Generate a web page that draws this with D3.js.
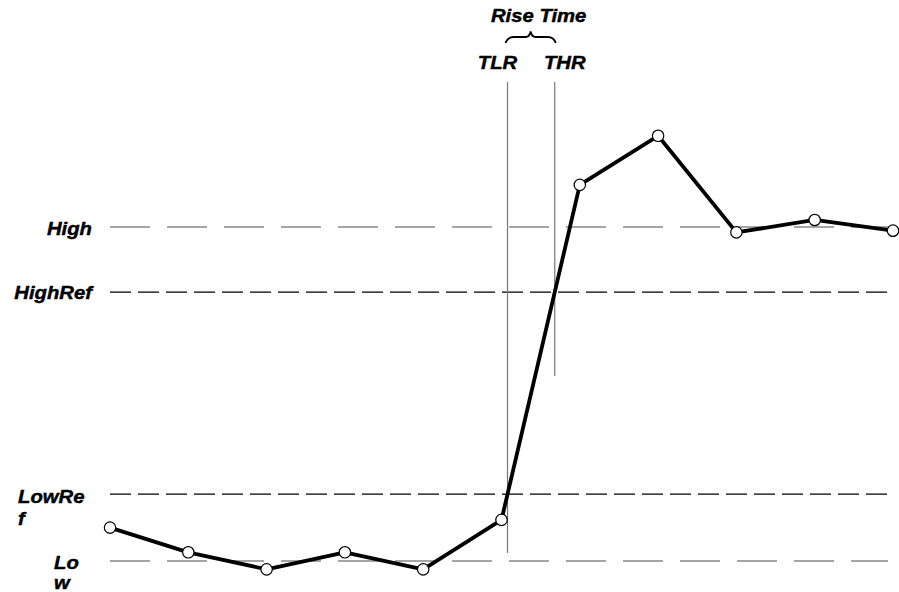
<!DOCTYPE html>
<html>
<head>
<meta charset="utf-8">
<script src="https://cdn.jsdelivr.net/npm/d3@7"></script>
<style>
  html, body { margin: 0; padding: 0; background: #fff; }
  svg { display: block; }
  .lbl { font-family: "Liberation Sans", Arial, sans-serif; font-weight: bold; font-style: italic; font-size: 17.5px; fill: #000; stroke: #000; stroke-width: 0.4px; }
</style>
</head>
<body>
<svg id="chart"></svg>
<script>
// sample values of the waveform (Low = 0, High = 100)
var samples = [0, 1, 2, 3, 4, 5, 6, 7, 8, 9, 10];
var values = [10, 2.6, -2.5, 2.6, -2.5, 12.3, 112.6, 127.3, 98.4, 102.1, 98.9];

// reference levels
var levelNames = ["High", "HighRef", "LowRef", "Low"];
var levelValues = [100, 80.5, 20, 0];
var levelLines = [["High"], ["HighRef"], ["LowRe", "f"], ["Lo", "w"]];

var W = 899, H = 592;
var svg = d3.select("#chart").attr("width", W).attr("height", H);

var x = d3.scaleLinear().domain([0, 10]).range([110, 893]);
var y = d3.scaleLinear().domain([0, 100]).range([561, 227]);

// level lines
var levelStyle = {
    High: { dash: "40,17", color: "#4d4d4d" },
    HighRef: { dash: "21,7", color: "#000" },
    LowRef: { dash: "21,7", color: "#000" },
    Low: { dash: "40,17", color: "#4d4d4d" }
};

svg.append("g").selectAll("line")
    .data(levelNames)
    .enter()
    .append("line")
    .attr("x1", 110)
    .attr("x2", 888)
    .attr("y1", function(d, i) { return y(levelValues[i]); })
    .attr("y2", function(d, i) { return y(levelValues[i]); })
    .style("stroke", function(d) { return levelStyle[d].color; })
    .style("stroke-width", 1.2)
    .style("stroke-dasharray", function(d) { return levelStyle[d].dash; });

// level labels (wrapped like the original)
var labelPos = {
    High: { x: 92, anchor: "end", dy: 8, gap: 22 },
    HighRef: { x: 92, anchor: "end", dy: 7, gap: 22 },
    LowRef: { x: 18, anchor: "start", dy: 9, gap: 22 },
    Low: { x: 54, anchor: "start", dy: 8, gap: 20 }
};
levelNames.forEach(function(name, i) {
    var p = labelPos[name];
    levelLines[i].forEach(function(txt, j) {
        svg.append("text")
            .attr("class", "lbl")
            .attr("text-anchor", p.anchor)
            .attr("transform", "translate(" + p.x + "," + (y(levelValues[i]) + p.dy + j * p.gap) + ") scale(1.16,1)")
            .text(txt);
    });
});

// find where the waveform crosses a level
function crossing(level) {
    for (var i = 0; i < values.length - 1; i++) {
        var a = values[i], b = values[i + 1];
        if ((a - level) * (b - level) <= 0 && a !== b) {
            var t = (level - a) / (b - a);
            return samples[i] + t * (samples[i + 1] - samples[i]);
        }
    }
    return null;
}
var tlr = crossing(levelValues[2]);
var thr = crossing(levelValues[1]);

// vertical markers
var marks = [
    { name: "TLR", t: tlr, bottom: 553, lx: -10 },
    { name: "THR", t: thr, bottom: 376, lx: 10 }
];
svg.append("g").selectAll("line")
    .data(marks)
    .enter()
    .append("line")
    .attr("x1", function(d) { return x(d.t); })
    .attr("x2", function(d) { return x(d.t); })
    .attr("y1", 82)
    .attr("y2", function(d) { return d.bottom; })
    .style("stroke", "#777")
    .style("stroke-width", 1.2);

marks.forEach(function(d) {
    svg.append("text")
        .attr("class", "lbl")
        .attr("text-anchor", "middle")
        .attr("transform", "translate(" + (x(d.t) + d.lx) + ",69) scale(1.16,1)")
        .text(d.name);
});

// brace + Rise Time title
var bx1 = x(tlr) - 2, bx2 = x(thr) + 1, bm = (bx1 + bx2) / 2;
var brace = d3.path();
brace.moveTo(bx1, 43);
brace.quadraticCurveTo(bx1 + 2, 37, bx1 + 8, 37);
brace.lineTo(bm - 5, 37);
brace.quadraticCurveTo(bm - 1, 37, bm, 31.5);
brace.quadraticCurveTo(bm + 1, 37, bm + 5, 37);
brace.lineTo(bx2 - 8, 37);
brace.quadraticCurveTo(bx2 - 2, 37, bx2, 43);
svg.append("path")
    .attr("d", brace.toString())
    .style("fill", "none")
    .style("stroke", "#000")
    .style("stroke-width", 1.8);

svg.append("text")
    .attr("class", "lbl")
    .attr("text-anchor", "middle")
    .attr("transform", "translate(" + (bm + 8) + ",22) scale(1.16,1)")
    .text("Rise Time");

// waveform
var line = d3.line()
    .x(function(d, i) { return x(samples[i]); })
    .y(function(d) { return y(d); });

svg.append("path")
    .datum(values)
    .attr("d", line)
    .style("fill", "none")
    .style("stroke", "#000")
    .style("stroke-width", 3.8)
    .style("stroke-linejoin", "round");

svg.append("g").selectAll("circle")
    .data(values)
    .enter()
    .append("circle")
    .attr("cx", function(d, i) { return x(samples[i]); })
    .attr("cy", function(d) { return y(d); })
    .attr("r", 5.7)
    .style("fill", "#fff")
    .style("stroke", "#000")
    .style("stroke-width", 1.2);
</script>
</body>
</html>
